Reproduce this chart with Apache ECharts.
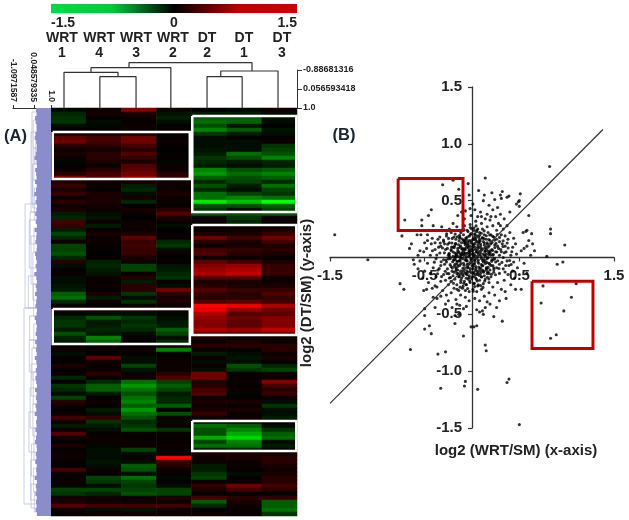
<!DOCTYPE html>
<html>
<head>
<meta charset="utf-8">
<style>html,body{margin:0;padding:0;background:#fff}#main{width:629px;height:520px}</style>
<script src="https://cdn.jsdelivr.net/npm/echarts@6/dist/echarts.min.js"></script>
</head>
<body>
<div id="main"></div>
<script>
// heat map: one row per gene, columns in dendrogram order
const heatColumns = ['WRT 1','WRT 4','WRT 3','WRT 2','DT 2','DT 1','DT 3'];
const heatRows = [
[-.05,.1,.9,.1,0,-.05,.1],[-.3,.15,.2,-.15,-.2,-.2,-.1],[-.35,.05,.1,-.25,-.7,-.7,-.15],[-.4,-.1,.05,-.1,-.8,-.75,-.1],
[-.1,-.05,.1,.05,-.6,-.15,0],[.05,.05,.1,.05,-.9,-.7,-.15],[.2,.2,.2,.05,-.4,-.2,-.1],[.7,.5,.8,.05,-.1,0,.05],
[.8,.5,.8,.1,-.1,-.1,.1],[.3,.3,.5,.05,-.1,-.1,-.4],[.1,.15,.3,0,-.15,-.1,-.5],[.2,.3,.6,.05,-.2,-.8,-.6],
[.1,.3,.4,.05,-.4,-.6,-.9],[-.05,.2,.2,-.05,-.3,-.2,-.3],[.05,.1,.6,.1,-.2,-.1,-.2],[.1,.3,.7,.1,-.9,-.6,-.7],
[.3,.5,.8,.3,-1,-.8,-.9],[.9,.6,1,.4,-.7,-.6,-.7],[.2,.1,.1,.1,-.3,-.5,-.3],[.4,.1,-.2,.1,-.6,-.2,-.8],
[.2,.05,-.3,.1,-.3,-.1,-.5],[.4,.2,-.1,.2,-.8,-.5,-.4],[.1,.2,.15,.1,-.8,-.9,-.8],[.3,.2,-.3,.1,-1.4,-1.2,-1.5],
[.1,.15,0,.05,-.6,-.6,-.7],[.2,.1,.15,.3,-.4,-.1,-.5],[-.2,-.1,.1,.6,-.7,-.6,-.7],[-.3,-.15,0,.2,.1,-.4,.1],
[.5,.1,.1,.05,.1,-.3,.1],[.4,-.2,.1,-.1,.05,.05,.05],[-.2,.05,.1,0,.1,.1,.2],[-.5,.2,.2,.05,.2,.2,.4],
[-.3,.1,.7,.1,.8,.5,.8],[.1,.1,.4,-.3,.3,.2,.5],[-.5,.05,.5,-.4,.1,.15,.2],[-.5,.05,.4,-.1,.5,.4,.3],
[-.6,0,.4,.1,.6,.3,.2],[-.3,.05,.2,.05,.1,.1,.05],[.3,-.25,.1,.05,.7,.5,.2],[-.1,-.3,-.5,-.15,.9,1,.4],
[.05,-.2,-.5,-.2,1,1.1,.4],[.1,-.15,.1,-.3,1.1,1.2,.4],[-.1,.1,.25,-.35,.6,.6,.1],[-.1,.05,-.2,.05,.2,.2,.1],
[-.15,.1,.3,-.1,.3,.2,.2],[-.2,.05,.3,.8,.6,.4,.4],[-.7,.2,-.4,.3,.4,.3,.6],[-.8,-.2,-.1,.2,.3,.3,.4],
[-.3,.1,-.35,.2,.6,.7,.5],[.1,.05,.1,.1,1.5,1.4,1.1],[.3,.2,.3,.2,1.4,1,.8],[-.05,-.1,-.1,-.05,1.1,.6,.7],
[-.3,-.6,-.4,-.1,1,.8,.9],[-.4,-.2,-.3,-.15,.9,.7,.9],[-.4,-.2,-.4,-.2,.9,.7,.9],[-.2,-.3,-.3,-.7,1.1,1,1.2],
[-.6,-.2,-.1,-.5,.7,.6,.7],[-.25,-.9,.05,-.1,.2,.1,.1],[-.2,-.7,.05,-.3,.1,.2,.1],[.1,.1,.05,.05,.3,.3,.3],
[.1,.05,.1,-.9,.1,.05,.3],[-.1,.05,.05,0,-.2,-.1,.1],[.05,.7,-.1,.05,.1,-.15,.2],[.05,.1,-.1,.1,-.1,-.1,.05],
[.2,.05,-.5,.1,.1,-.6,-.3],[.05,.1,-.15,.1,-.1,-.4,-.5],[.1,.3,.1,.3,.8,.05,.1],[-.3,.05,.1,.6,.8,.05,.1],
[.05,-.3,-.8,-.5,.2,.1,.9],[-.4,-.7,-1,-.7,.3,.05,.5],[-.3,-.7,-.8,-.5,.5,.1,.3],[-.1,-.2,-.6,-.2,.6,-.05,.4],
[-.5,.05,-.8,-.3,.1,.05,.1],[.3,.1,-.9,-.3,.2,.2,-.1],[.1,.05,-.7,-.7,.1,.1,-.4],[.05,-.2,-1,.05,.2,.2,-.1],
[.1,-.1,-.8,-.6,.4,.1,-.1],[.5,.4,-.6,.1,.1,.1,-.2],[.1,-.4,-.3,-.1,-.1,-.1,0],[-.2,-.2,-.4,.1,-.8,-.7,-.1],
[.1,-.1,-.6,-.4,-.6,-.9,-.4],[.6,.05,.1,.1,-.6,-1.1,-.7],[.1,.1,.05,.05,-1.1,-1.3,-.8],[.05,.1,.1,.05,-.5,-.9,-.1],
[.2,-.05,.1,.1,-.8,-.8,-.2],[.05,-.1,-.5,.05,-.2,-.3,-.05],[.1,-.1,-.1,.05,.2,.2,.2],[.1,-.1,.1,1.5,.1,.2,.3],
[.05,-.15,-.1,.4,.1,.1,.3],[.05,-.1,-.7,.3,-.2,.1,.2],[.5,.1,-.6,.1,-.2,.05,.1],[.1,.05,-.1,.05,-.4,-.1,.2],
[.05,-.5,-.8,-.05,-.5,.05,.3],[.1,-.4,-.5,.05,.1,.1,.3],[-.05,-.1,-.4,-.1,.4,.8,.5],[-.5,-.5,-.5,-.5,.2,.5,.3],
[-.4,-.3,-.6,-.5,.05,.05,-.05],[.15,.15,.1,.2,.5,.3,.4],[.2,.1,.1,.1,-.7,.2,-.7],[.6,.5,.5,.5,-.3,.1,-.7],
[.1,-.1,-.15,.1,.05,.05,-.8],[.05,.1,.1,.1,.1,.05,-.4]
];
// column tree: x in column units, y on the right-hand distance axis
const distanceTicks = [-0.88681316, 0.056593418, 1];
const distanceLabels = ['-0.88681316', '0.056593418', '1.0'];
const columnMerges = [
  [1.39,1,-.554,2.42,1],
  [.37,1,-.773,1.907,-.554],
  [1.138,-.773,-1.001,3.41,1],
  [4.44,1,-.554,5.44,1],
  [4.83,-.554,-.837,6.46,1],
  [2.22,-1.001,-1.249,5.72,-.837]
];
const columnLabelAt = [.31,1.37,2.42,3.47,4.44,5.49,6.57];
// row tree: where each leaf stops on the top distance axis
const rowTicks = [-1.0971587, 0.048579335, 1];
const rowTickLabels = ['-1.0971587', '0.048579335', '1.0'];
const rowLeafEnds = [
.17,.2,.12,.15,.2,.22,.14,.1,.18,.21,.2,.16,.09,.2,.22,.13,.18,.2,.12,.21,.17,.08,.2,.15,.22,.19,.13,.2,.16,.22,.1,.2,.18,.14,.22,.2,.12,.17,.21,.15,
.2,.08,.19,.22,.16,.2,.12,.21,.18,.14,.22,.2,.1,.17,.21,.19,.15,.22,.13,.2,.17,.21,.11,.19,.22,.16,.2,.14,.18,.22,.12,.2,.17,.21,.15,.19,.1,.22,.18,.2,
.14,.21,.17,.12,.2,.22,.16,.19,.13,.21,.18,.2,.1,.22,.16,.19,.14,.21,.17,.2,.15,.22
];
const rowBranches = [
  [-.05,1,24],[.02,3,10],[.05,10,18],[0,18,25],[-.1,6,26],[.08,20,28],[.1,5,14],[-.02,14,22],
  [-.43,24,50],[-.2,28,40],[-.1,32,44],[-.25,42,50],[0,36,48],[.06,30,36],[.04,44,52],[-.15,26,34],
  [-.49,50,99],[-.05,60,68],[-.1,64,72],[-.15,70,80],[-.2,58,66],[0,74,82],[-.08,84,92],[-.12,88,98],
  [-.1,94,100],[.05,54,60],[.02,66,74],[.06,80,88],[-.18,52,58],[.04,90,96],[-.22,76,86],[.08,96,101]
];
// white boxes around the clusters: left, right, top row, bottom row
const clusterBoxes = [
  [.05,3.95,6,17.75],
  [4.02,6.98,2,26],
  [4.02,6.98,29.25,56.75],
  [.05,3.95,50.25,59],
  [4.02,6.98,78.25,85.75]
];
// scatter, log2 ratios [WRT/SM, DT/SM]
const ratios = [
[.82,.80],[-1.45,.2],[-1.1,-.02],[-.2,.68],[-.31,.64],[-.14,.6],[-.04,.65],[.14,.7],[.07,.59],[.21,.57],[.32,.58],[.3,.55],[-.03,.55],[.39,.54],[.37,.53],[.31,.52],[.24,.51],[.13,.55],[.12,.5],[.51,.56],
[.5,.5],[.49,.49],[.47,.47],[.4,.4],[.5,.45],[.6,.37],[.83,.25],[.83,.21],[.98,.11],[.79,.01],[.96,-.04],[.9,-.06],[.55,.08],[.58,.1],[.64,.12],[.63,.21],[.58,.24],[.57,.23],[.54,.22],
[-.71,.33],[-.53,.33],[-.43,.42],[-.46,.37],[-.53,.28],[-.41,.28],[-.74,.19],[-.58,.2],[-.54,.2],[-.47,.2],[-.66,.08],[-.64,.12],[-.55,.06],[-.51,.05],[-.48,.08],[-.43,.12],[-.39,.13],[-.47,.15],[-.32,.27],[-.2,.3],[-.15,.37],[-.16,.27],[-.08,.34],[-.11,.4],[-.02,.43],[.01,.47],[.03,.42],
[-.76,-.23],[-.72,-.28],[.75,-.25],[1.1,-.23],[1.05,-.35],[.73,-.4],[.97,-.47],[.89,-.68],[.83,-.71],[.52,-.28],[.36,-.36],[.29,-.38],[.23,-.52],[.32,-.56],[.14,-.77],[.15,-.82],[-.09,-.69],[-.01,-.61],[.02,-.61],[.05,-.6],[-.18,-.58],[-.43,-.67],[-.5,-.63],[-.45,-.6],[-.5,-.51],[-.5,-.45],[-.65,-.81],[-.36,-.85],[-.28,-.83],[.39,-1.07],[.37,-1.1],[-.07,-1.09],[-.08,-1.13],[-.33,-1.15],[.06,-1.16],[.5,-1.47],
[.11,-.47],[.12,-.5],[.08,-.48],[.14,-.44],[.05,-.46],[-.06,-.43],[-.09,-.45],[-.14,-.5],[-.18,-.51],[-.13,-.42],[-.25,-.38],[-.39,-.44],[-.37,-.36],[-.41,-.35],[-.51,-.29],[-.48,-.28],[-.39,-.25],[-.37,-.26],
[.42,.05],[.46,.12],[.44,.17],[.4,.22],[.37,.28],[.34,.34],[.3,.38],[.27,.44],[.22,.42],[.18,.46],[.16,.38],[.09,.4],[.06,.36],[.25,.36],[.33,.25],[.28,.3],[.19,.33],[.14,.34],[.22,.28],[.1,.3],[.04,.32],[.16,.27],[.26,.24],[.31,.2],[.38,.16],[.35,.1],[.41,.02],[.47,.03],[.52,.06],[.36,.05],
[.44,-.04],[.48,-.09],[.39,-.07],[.5,-.15],[.45,-.18],[.38,-.15],[.33,-.1],[.29,-.14],[.34,-.2],[.27,-.22],[.41,-.24],[.31,-.28],[.22,-.26],[.18,-.31],[.24,-.33],[.13,-.34],[.08,-.38],[.16,-.39],[.03,-.36],[-.03,-.38],
[-.07,-.35],[-.12,-.33],[-.17,-.37],[-.22,-.31],[-.27,-.33],[-.31,-.29],[-.19,-.27],[-.25,-.24],[-.33,-.21],[-.38,-.17],[-.44,-.14],[-.5,-.12],[-.57,-.1],[-.61,-.06],[-.55,-.03],[-.47,-.05],[-.41,-.09],[-.36,-.11],[-.3,-.15],[-.29,-.06],
[-.38,-.01],[-.44,.02],[-.34,.04],[-.39,.07],[-.33,.1],[-.36,.16],[-.3,.14],[-.27,.19],[-.24,.13],[-.28,.07],[-.25,.02],[-.22,.22],[-.19,.18],[-.13,.24],[-.08,.28],[-.05,.24],[-.02,.29],[.02,.26],[.05,.24],[.08,.22],
[.11,.25],[.13,.2],[.17,.22],[.2,.2],[.23,.18],[.26,.16],[.29,.14],[.32,.12],[.24,.11],[.28,.08],[.31,.05],[.19,.15],[.15,.16],[.11,.17],[.07,.18],[.03,.2],[-.01,.21],[-.05,.18],[-.09,.2],[-.13,.17],
[-.17,.12],[-.2,.09],[-.15,.08],[-.11,.13],[-.07,.14],[-.03,.15],[.01,.16],[.05,.14],[.09,.12],[.13,.11],[.17,.09],[.21,.07],[.25,.05],[.29,.02],[.33,0],[.37,-.03],[.22,.02],[.18,.04],[.14,.06],[.1,.08],
[.06,.09],[.02,.11],[-.02,.1],[-.06,.09],[-.1,.08],[-.14,.05],[-.18,.04],[-.22,.06],[-.26,.08],[-.23,-.01],[-.19,-.02],[-.15,.01],[-.11,.03],[-.07,.04],[-.03,.06],[.01,.07],[.05,.05],[.09,.04],[.13,.02],[.17,0],
[.21,-.02],[.25,-.04],[.29,-.06],[.26,-.09],[.22,-.07],[.18,-.05],[.14,-.03],[.1,-.01],[.06,.01],[.02,.02],[-.02,.03],[-.06,.01],[-.1,-.01],[-.14,-.03],[-.18,-.06],[-.22,-.08],[-.26,-.1],[-.3,-.02],[-.33,-.07],[-.27,-.04],
[-.21,-.12],[-.17,-.09],[-.13,-.07],[-.09,-.05],[-.05,-.03],[-.01,-.02],[.03,-.03],[.07,-.05],[.11,-.07],[.15,-.09],[.19,-.11],[.23,-.13],[.2,-.17],[.16,-.14],[.12,-.12],[.08,-.1],[.04,-.08],[0,-.07],[-.04,-.09],[-.08,-.1],
[-.12,-.12],[-.16,-.14],[-.2,-.16],[-.24,-.18],[-.28,-.2],[-.22,-.21],[-.18,-.19],[-.14,-.17],[-.1,-.15],[-.06,-.14],[-.02,-.12],[.02,-.13],[.06,-.15],[.1,-.17],[.14,-.19],[.18,-.22],[.12,-.23],[.08,-.2],[.04,-.18],[0,-.17],
[-.04,-.19],[-.08,-.21],[-.12,-.22],[-.16,-.24],[-.1,-.27],[-.06,-.24],[-.02,-.22],[.02,-.23],[.06,-.25],[.1,-.28],[.05,-.3],[.01,-.28],[-.03,-.3],[-.07,-.29],[-.14,-.29],[.03,-.02],[-.04,.12],[.07,.13],[-.08,.03],[.12,-.04],
[-.12,.1],[.16,.13],[.02,-.06],[-.16,-.04],[.08,.16],[-.05,-.06],[.2,.12],[-.2,.01],[.11,-.11],[-.09,-.12],[.04,.17],[-.01,.13],[.15,.03],[-.13,-.15],[.06,-.12],[-.03,-.16],[.24,-.01],[-.24,.03],[.09,-.14],[-.07,.07],
[.18,-.14],[-.17,.16],[.27,.1],[-.29,.12],[.03,.09],[-.11,-.18],[.13,-.16],[-.06,.16],[.19,.06],[-.15,-.11],[.01,-.1],[.07,.03],[-.02,-.05],[.12,.14],[-.19,-.13],[.23,-.09],[.04,-.15],[-.09,.15],[.16,-.01],[-.04,-.13],
[.35,.19],[.43,.09],[.3,.28],[.2,.36],[.1,.36],[-.01,.37],[-.07,.41],[-.24,.25],[-.34,.18],[-.42,.17],[-.5,.13],[-.57,.02],[-.62,-.02],[-.52,-.18],[-.46,-.22],[-.42,-.27],[-.33,-.34],[-.28,-.41],[-.21,-.44],[-.16,-.41],
[.19,-.41],[.26,-.44],[.35,-.3],[.43,-.12],[.55,-.05],[.58,-.14],[.46,-.28],[.62,.02],[.6,.15],[.66,.06]
];
// the dense middle of the cloud, read separately
const ratiosCore = [
[.013,.037],[-.087,.064],[.126,-.018],[-.043,-.071],[.074,.142],[-.161,.027],[.038,-.113],[-.029,.188],[.193,.041],[-.118,-.054],[.057,.071],[-.072,.113],[.146,.093],[-.204,-.038],[.022,-.167],[-.051,.036],[.098,-.062],[-.136,.146],[.171,-.087],[-.014,-.041],
[.083,.024],[-.097,-.096],[.212,.133],[-.183,.104],[.031,.124],[-.024,-.207],[.137,.052],[-.066,.172],[.004,.058],[-.148,-.078],[.109,.176],[-.231,-.063],[.063,-.037],[-.039,.084],[.159,-.044],[-.108,.041],[.047,-.191],[-.012,.146],[.224,.029],[-.171,-.117],
[.092,.103],[-.054,-.152],[.017,.002],[-.127,.089],[.178,.158],[-.221,.071],[.071,-.083],[-.033,.011],[.121,-.129],[-.082,.131],[.009,.096],[-.193,-.021],[.143,.011],[-.061,-.183],[.039,.153],[-.017,-.098],[.186,-.058],[-.112,-.133],[.103,.067],[-.151,.058],
[.028,-.052],[-.047,.107],[.164,.116],[-.243,.034],[.079,-.158],[-.006,-.136],[.119,.031],[-.089,.019],[.051,.192],[-.134,-.168],[.208,-.034],[-.028,.063],[.067,-.022],[-.176,.122],[.011,-.078],[-.073,-.022],[.153,.072],[-.102,.162],[.043,.046],[-.208,-.092],
[.241,.087],[-.019,.201],[.088,-.121],[-.157,-.059],[.033,.017],[-.056,-.117],[.131,.127],[-.122,.002],[.002,-.024],[-.238,.011],[.176,.026],[-.078,.077],[.054,-.207],[-.036,-.057],[.114,-.073],[-.188,.087],[.026,.178],[-.093,-.163],[.201,-.071],[-.009,.076],
[.076,.088],[-.141,.112],[.148,-.112],[-.059,-.028],[.019,-.141],[-.212,.128],[.096,.009],[-.044,.139],[.169,.054],[-.117,-.201],[.041,-.097],[-.026,.019],[.127,.167],[-.076,-.138],[.008,.119],[-.166,-.101],[.227,-.018],[-.091,.047],[.062,.109],[-.031,-.176],
[.112,-.027],[-.199,.049],[.036,.071],[-.011,-.009],[.156,-.096],[-.128,.179],[.086,.148],[-.064,-.012],[.024,-.226],[-.251,-.012],[.181,.104],[-.041,.094],[.069,.039],[-.146,-.142],[.101,-.171],[-.021,.051],[.134,.083],[-.084,-.069],[.046,-.006],[-.216,.093],
[.016,.159],[-.106,.073],[.196,.021],[-.068,.126],[.059,-.137],[-.003,-.188],[.141,-.052],[-.173,.007],[.082,.056],[-.049,-.087],[.029,.209],[-.124,-.031],[.217,.062],[-.034,.043],[.091,-.091],[-.186,-.076],[.006,.029],[-.079,.152],[.167,-.126],[-.113,.022],
[-.263,-.141],[-.292,.041],[-.274,-.022],[-.312,.083],[-.248,.168],[-.283,-.121],[-.326,-.038],[-.257,.116],[-.301,.153],[-.268,.209],[.262,.048],[.284,-.097],[.253,.124],[.303,.071],[.272,-.028],[.316,-.043],[.248,-.152],[.291,.177],[.327,.096],[.266,.203],
[-.042,.228],[.021,.237],[-.084,.243],[.061,.251],[-.118,.219],[.098,.213],[-.151,.238],[.128,.234],[-.018,.264],[.043,.278],[-.062,-.238],[.028,-.256],[-.094,-.252],[.067,-.241],[-.126,-.261],[.091,-.247],[-.046,-.273],[.013,-.297],[-.158,-.279],[.116,-.263],
[-.346,-.098],[-.372,.022],[-.353,.091],[-.398,-.041],[-.321,-.168],[-.364,-.143],[-.418,.059],[-.336,.127],[.341,.042],[.356,-.071],[.382,.083],[.329,.147],[.398,-.027],[.349,-.127],[.372,.127],[.413,-.061],
[-.226,-.176],[-.196,-.226],[-.244,-.142],[-.178,.206],[-.209,.168],[.231,-.107],[.207,-.147],[.163,-.174],[.238,.153],[.219,.186],[.187,.198],[-.087,-.226],[.134,-.207],[.049,.226],[.079,.196],[-.131,.196],[-.156,.183],[.151,.192],[.178,-.189],[-.004,.252]
];
const diagonalX = [-1.5, 1.383];
const diagonalY = [-1.284, 1.126];
const redBoxes = [[-.78,-.095,.695,.237],[.634,1.278,-.21,-.8]];

const LABEL_FONT = '"Liberation Sans", Arial, sans-serif';

let heatData = [];
heatRows.forEach(function (row, r) {
  row.forEach(function (v, c) { heatData.push([c, r, v]); });
});

let leafData = [];
rowLeafEnds.forEach(function (end, r) {
  leafData.push([end, r + .5], [1, r + .5], [null, null]);
});

let branchData = [];
rowBranches.forEach(function (b) {
  branchData.push([.2, b[1]], [b[0], b[1]], [b[0], b[2]], [.2, b[2]], [null, null]);
});

let series = [];

// left tree
series.push({
  type: 'line', xAxisIndex: 2, yAxisIndex: 2, data: branchData, showSymbol: false, silent: true,
  lineStyle: { color: '#b6b8e2', width: .7 }
});
series.push({
  type: 'line', xAxisIndex: 2, yAxisIndex: 2, data: leafData, showSymbol: false, silent: true,
  lineStyle: { color: '#8b8dca', width: 4, cap: 'butt' }
});

// column tree
columnMerges.forEach(function (m) {
  series.push({
    type: 'line', xAxisIndex: 1, yAxisIndex: 1, clip: false, showSymbol: false, silent: true,
    data: [[m[0], m[1]], [m[0], m[2]], [m[3], m[2]], [m[3], m[4]]],
    lineStyle: { color: '#333', width: 1.2 }
  });
});

series.push({
  type: 'heatmap', xAxisIndex: 3, yAxisIndex: 3, data: heatData, progressive: 0, silent: true
});
const heatIndex = series.length - 1;

clusterBoxes.forEach(function (b) {
  series.push({
    type: 'line', xAxisIndex: 4, yAxisIndex: 4, showSymbol: false, silent: true,
    data: [[b[0], b[2]], [b[1], b[2]], [b[1], b[3]], [b[0], b[3]], [b[0], b[2]]],
    lineStyle: { color: '#fff', width: 2.5, join: 'miter' }
  });
});

// right panel
series.push({
  type: 'line', xAxisIndex: 5, yAxisIndex: 5, showSymbol: false, silent: true,
  data: [[diagonalX[0], diagonalY[0]], [diagonalX[1], diagonalY[1]]],
  lineStyle: { color: '#333', width: 1.2 }
});
series.push({
  type: 'scatter', xAxisIndex: 5, yAxisIndex: 5, data: ratios.concat(ratiosCore), symbolSize: 3.1, silent: true,
  large: false, itemStyle: { color: '#000' }
});
redBoxes.forEach(function (b) {
  series.push({
    type: 'line', xAxisIndex: 5, yAxisIndex: 5, showSymbol: false, silent: true,
    data: [[b[0], b[2]], [b[1], b[2]], [b[1], b[3]], [b[0], b[3]], [b[0], b[2]]],
    lineStyle: { color: '#c00000', width: 3, join: 'miter' }
  });
});

const hidden = { show: false };

let option = {
  animation: false,
  backgroundColor: '#fff',
  grid: [
    { left: 51, top: 4, width: 246, height: 9 },
    { left: 51, top: 70, width: 246, height: 38 },
    { left: 13, top: 108, width: 38, height: 408 },
    { left: 51, top: 108, width: 246, height: 408 },
    { left: 51, top: 108, width: 246, height: 408 },
    { left: 330, top: 87, width: 284, height: 341 }
  ],
  xAxis: [
    { gridIndex: 0, type: 'value', min: -1.5, max: 1.5, interval: 1.5,
      axisLine: hidden, axisTick: hidden, splitLine: hidden,
      axisLabel: { margin: 3, color: '#222', fontFamily: LABEL_FONT, fontWeight: 'bold', fontSize: 14,
        alignMinLabel: 'left', alignMaxLabel: 'right',
        formatter: function (v) { return v === 0 ? '0' : v.toFixed(1); } } },
    { gridIndex: 1, type: 'value', min: 0, max: 7, position: 'top',
      axisLine: hidden, axisTick: hidden, splitLine: hidden,
      axisLabel: { customValues: columnLabelAt, margin: 9, color: '#222', fontFamily: LABEL_FONT,
        fontWeight: 'bold', fontSize: 14, lineHeight: 15, hideOverlap: false, showMinLabel: true, showMaxLabel: true,
        formatter: function (v) {
          let i = columnLabelAt.indexOf(v);
          return heatColumns[i].replace(' ', '\n');
        } } },
    { gridIndex: 2, type: 'value', min: rowTicks[0], max: rowTicks[2], position: 'top',
      axisLine: { show: true, onZero: false, lineStyle: { color: '#333' } },
      axisTick: { show: true, customValues: rowTicks, length: 3, lineStyle: { color: '#333' } },
      splitLine: hidden,
      axisLabel: { customValues: rowTicks, rotate: 90, margin: 6, color: '#222', fontFamily: LABEL_FONT,
        fontWeight: 'bold', fontSize: 8.5, hideOverlap: false,
        formatter: function (v) { return rowTickLabels[rowTicks.indexOf(v)]; } } },
    { gridIndex: 3, type: 'category', data: heatColumns, axisLine: hidden, axisTick: hidden, axisLabel: hidden, splitLine: hidden },
    { gridIndex: 4, type: 'value', min: 0, max: 7, axisLine: hidden, axisTick: hidden, axisLabel: hidden, splitLine: hidden },
    { gridIndex: 5, type: 'value', min: -1.5, max: 1.5, interval: 1, position: 'bottom', offset: -170.5,
      axisLine: { onZero: false, lineStyle: { color: '#333', width: 1.3 } },
      axisTick: { show: true, length: 4, lineStyle: { color: '#333', width: 1.2 } },
      splitLine: hidden,
      axisLabel: { margin: 11, color: '#222', fontFamily: LABEL_FONT, fontWeight: 'bold', fontSize: 15,
        hideOverlap: false, showMinLabel: true, showMaxLabel: true, formatter: function (v) { return v.toFixed(1); } } }
  ],
  yAxis: [
    { gridIndex: 0, type: 'value', axisLine: hidden, axisTick: hidden, axisLabel: hidden, splitLine: hidden },
    { gridIndex: 1, type: 'value', position: 'right', inverse: true, min: distanceTicks[0], max: distanceTicks[2],
      axisLine: { show: true, onZero: false, lineStyle: { color: '#333' } },
      axisTick: { show: true, customValues: distanceTicks, length: 5, lineStyle: { color: '#333' } },
      splitLine: hidden,
      axisLabel: { customValues: distanceTicks, margin: 6, color: '#222', fontFamily: LABEL_FONT,
        fontWeight: 'bold', fontSize: 9, hideOverlap: false,
        formatter: function (v) { return distanceLabels[distanceTicks.indexOf(v)]; } } },
    { gridIndex: 2, type: 'value', inverse: true, min: 0, max: heatRows.length, axisLine: hidden, axisTick: hidden, axisLabel: hidden, splitLine: hidden },
    { gridIndex: 3, type: 'category', inverse: true, data: heatRows.map(function (r, i) { return i; }), axisLine: hidden, axisTick: hidden, axisLabel: hidden, splitLine: hidden },
    { gridIndex: 4, type: 'value', inverse: true, min: 0, max: heatRows.length, axisLine: hidden, axisTick: hidden, axisLabel: hidden, splitLine: hidden },
    { gridIndex: 5, type: 'value', min: -1.5, max: 1.5, interval: .5, position: 'left', offset: -142,
      axisLine: { onZero: false, lineStyle: { color: '#333', width: 1.3 } },
      axisTick: { show: true, length: 4, lineStyle: { color: '#333', width: 1.2 } },
      splitLine: hidden,
      axisLabel: { margin: 10, color: '#222', fontFamily: LABEL_FONT, fontWeight: 'bold', fontSize: 15,
        hideOverlap: false, showMinLabel: true, showMaxLabel: true,
        formatter: function (v) { return v === 0 ? '0' : v.toFixed(1); } } }
  ],
  visualMap: [{
    show: false, type: 'continuous', seriesIndex: heatIndex, dimension: 2, min: -1.5, max: 1.5,
    inRange: { color: ['#00ff00', '#006400', '#000000', '#640000', '#ff0000'] }
  }],
  graphic: [
    { type: 'rect', left: 51, top: 4, silent: true, shape: { width: 246, height: 9 },
      style: { fill: new echarts.graphic.LinearGradient(0, 0, 1, 0, [
        { offset: 0, color: '#00dc46' }, { offset: .25, color: '#00c83c' }, { offset: .5, color: '#000' },
        { offset: .76, color: '#b80000' }, { offset: 1, color: '#cc0008' }]) } },
    { type: 'text', x: 15.5, y: 136, silent: true,
      style: { text: '(A)', x: 0, y: 0, align: 'center', verticalAlign: 'middle', fill: '#1b2535', font: 'bold 16.5px ' + LABEL_FONT } },
    { type: 'text', x: 344, y: 135, silent: true,
      style: { text: '(B)', x: 0, y: 0, align: 'center', verticalAlign: 'middle', fill: '#1b2535', font: 'bold 16.5px ' + LABEL_FONT } },
    { type: 'text', x: 516, y: 451, silent: true,
      style: { text: 'log2 (WRT/SM) (x-axis)', x: 0, y: 0, align: 'center', verticalAlign: 'middle', fill: '#222', font: 'bold 15px ' + LABEL_FONT } },
    { type: 'text', x: 307, y: 293, rotation: Math.PI / 2, silent: true,
      style: { text: 'log2 (DT/SM) (y-axis)', x: 0, y: 0, align: 'center', verticalAlign: 'middle', fill: '#222', font: 'bold 15px ' + LABEL_FONT } }
  ],
  series: series
};

var chartDom = document.getElementById('main');
var myChart = echarts.init(chartDom);
myChart.setOption(option);
</script>
</body>
</html>
